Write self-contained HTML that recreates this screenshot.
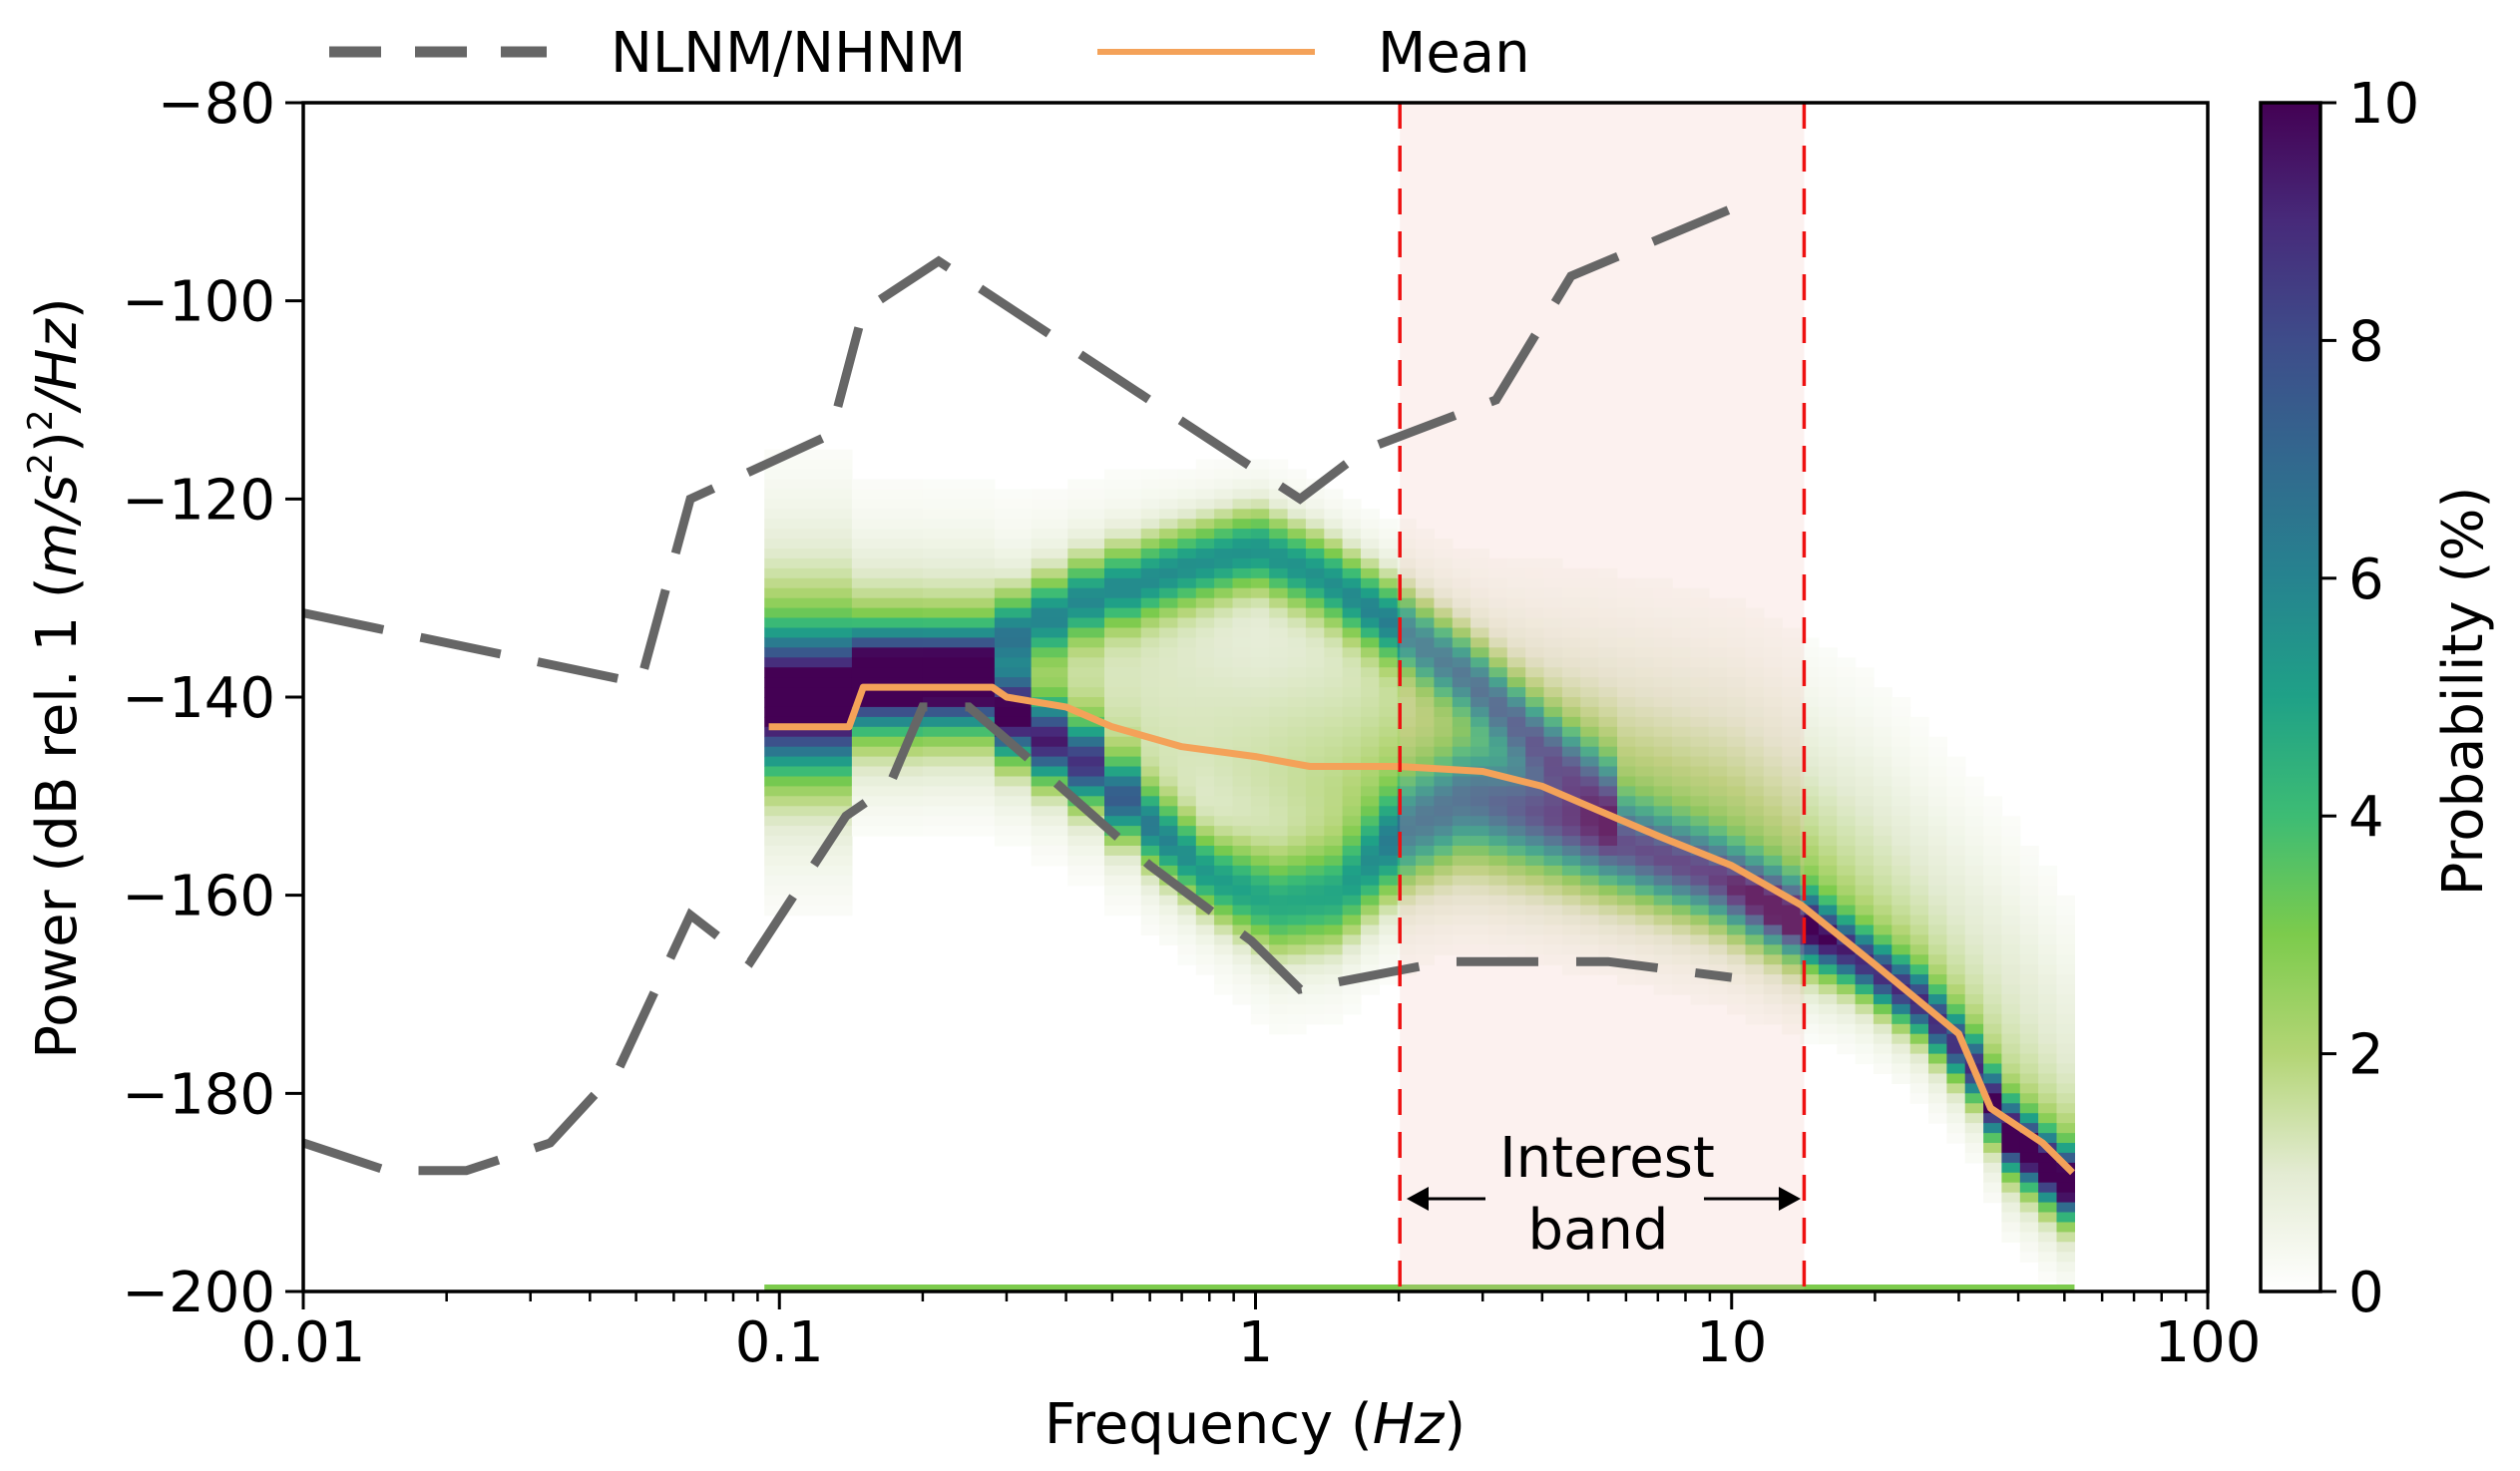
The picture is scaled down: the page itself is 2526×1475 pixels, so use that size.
<!DOCTYPE html>
<html><head><meta charset="utf-8"><style>
html,body{margin:0;padding:0;background:#fff;}
svg{display:block;font-family:"DejaVu Sans","Liberation Sans",sans-serif;}
</style></head><body>
<svg id="chart" width="2526" height="1475" viewBox="0 0 2526 1475" xmlns="http://www.w3.org/2000/svg">
<defs>
<linearGradient id="cbgrad" x1="0" y1="1" x2="0" y2="0">
<stop offset="0" stop-color="#ffffff"/><stop offset="0.1" stop-color="#e3ebd2"/><stop offset="0.2" stop-color="#b3d575"/><stop offset="0.3" stop-color="#7ccb4c"/><stop offset="0.4" stop-color="#3dbc74"/><stop offset="0.5" stop-color="#1fa187"/><stop offset="0.6" stop-color="#26838f"/><stop offset="0.7" stop-color="#32688e"/><stop offset="0.8" stop-color="#3e4c8a"/><stop offset="0.9" stop-color="#472a7a"/><stop offset="1" stop-color="#440154"/>
</linearGradient>
<clipPath id="plotclip"><rect x="304" y="103" width="1909" height="1192"/></clipPath>
</defs>
<g id="heat"></g>
<rect id="band" fill="#f2b8b0" fill-opacity="0.2"/>
<g id="lines" clip-path="url(#plotclip)"></g>
<g id="axes"></g>
</svg>
<script>
// ---- data ----
const mainFreq  = [0.1,0.17,0.25,0.33,0.45,0.6,0.8,1.1,1.5,2,2.8,4,6,9,13,18,25,32,38,50];
const mainDb    = [-141,-138,-138,-143,-147,-153,-158,-161,-160,-154,-150,-152,-155,-158,-162,-166,-171,-177,-184,-189];
const mainPeak  = [10,12,12,9,8,6,5,4.5,4.5,5,5,6,6.5,7,10,8,8,8,11,11];
const mainWidth = [5,3,3,2.5,2.5,2.5,2.5,3.2,3.2,3.2,3.2,3,2.8,2.6,2.3,2,2,2,2.2,2.2];
const upperFreq = [0.3,0.45,0.7,1.0,1.4,2,2.8,4,5.5];
const upperDb   = [-134,-130,-127,-125,-128,-133,-138,-145,-150];
const upperPeak = [5,5,5,5,5,5.5,5.5,5.5,4];
const cloudFreq = [0.1,0.3,0.6,1,2,5,10,20,40,52];
const cloudDb   = [-138,-138,-142,-146,-150,-152,-155,-161,-175,-182];
const cloudPeak = [0.8,0.6,1.1,1.3,1.8,2.1,2.0,1.4,1.1,1.0];
const nlnmF = [0.01,0.015,0.022,0.033,0.046,0.065,0.087,0.138,0.17,0.2,0.25,0.33,0.6,0.98,1.24,2.5,5.5,10];
const nlnmDb = [-185,-187.8,-187.8,-185,-177.5,-162,-166.7,-152,-149,-141,-141,-146,-157,-164.6,-169.5,-166.7,-166.7,-168.3];
const nhnmF = [0.01,0.051,0.065,0.128,0.15,0.216,1.24,1.7,3.2,4.6,10];
const nhnmDb = [-131.5,-138.6,-120,-113.5,-101,-96,-120,-115,-110,-97.5,-90.7];
const meanF = [0.095,0.14,0.15,0.28,0.3,0.4,0.5,0.7,1,1.3,2,3,4,5,7,10,14,20,30,35,45,52];
const meanDb = [-143,-143,-139,-139,-140,-141,-143,-145,-146,-147,-147,-147.5,-149,-151,-154,-157,-161,-167,-174,-181.5,-185,-188];
const xTicks = [0.01,0.1,1,10,100];
const xTickLabels = ["0.01","0.1","1","10","100"];
const yTicks = [-80,-100,-120,-140,-160,-180,-200];
const cbTicks = [0,2,4,6,8,10];
const bandLo = 2.01, bandHi = 14.2;

const L=304,R=2213,T=103,B=1295;
const X=f=>L+(Math.log10(f)+2)*(R-L)/4;
const Y=d=>T+(-80-d)*(B-T)/120;
const NS="http://www.w3.org/2000/svg";
function mk(tag,attrs,parent){const e=document.createElementNS(NS,tag);for(const k in attrs)e.setAttribute(k,attrs[k]);parent.appendChild(e);return e;}
function interp(fs,vs,f){const lf=Math.log10(f);if(f<=fs[0])return vs[0];if(f>=fs[fs.length-1])return vs[vs.length-1];
 for(let i=0;i<fs.length-1;i++){const a=Math.log10(fs[i]),b=Math.log10(fs[i+1]);if(lf>=a&&lf<=b){const t=(lf-a)/(b-a);return vs[i]+t*(vs[i+1]-vs[i]);}}return vs[0];}
const stops=[[0,[255,255,255]],[1,[227,235,210]],[2,[179,213,117]],[3,[124,203,76]],[4,[61,188,116]],[5,[31,161,135]],[6,[38,131,143]],[7,[50,104,142]],[8,[62,76,138]],[9,[71,42,122]],[10,[68,1,84]]];
function col(v){v=Math.max(0,Math.min(10,v));const i=Math.min(9,Math.floor(v));const t=v-i;const a=stops[i][1],b=stops[i+1][1];
 return `rgb(${Math.round(a[0]+t*(b[0]-a[0]))},${Math.round(a[1]+t*(b[1]-a[1]))},${Math.round(a[2]+t*(b[2]-a[2]))})`;}

const band=document.getElementById('band');
band.setAttribute('x',X(bandLo));band.setAttribute('y',T);band.setAttribute('width',X(bandHi)-X(bandLo));band.setAttribute('height',B-T);

const edges=[0.093,0.142,0.2,0.283];
let lx=Math.log10(0.283);
while(lx<Math.log10(0.55)){lx+=1/13;edges.push(Math.pow(10,lx));}
while(lx<Math.log10(52)){lx+=1/26;edges.push(Math.pow(10,Math.min(lx,Math.log10(52.5))));}
const heat=document.getElementById('heat');
const g=(x,s)=>Math.exp(-0.5*x*x/(s*s));
for(let c=0;c<edges.length-1;c++){
 const f=Math.sqrt(edges[c]*edges[c+1]);
 const mc=interp(mainFreq,mainDb,f),mp=interp(mainFreq,mainPeak,f),mw=interp(mainFreq,mainWidth,f);
 const hasU=f>=0.28&&f<=6;const uc=interp(upperFreq,upperDb,f),up=interp(upperFreq,upperPeak,f);
 const cc=interp(cloudFreq,cloudDb,f),cp=interp(cloudFreq,cloudPeak,f);
 const x0=X(edges[c]),x1=X(edges[c+1]);
 for(let d=-100;d>-200;d-=1){
  const dc=d-0.5;
  let v=0.85*mp*g(dc-mc,mw)+0.18*mp*g(dc-mc,mw*2.2);
  if(hasU)v+=0.9*up*g(dc-uc,2.5)+0.15*up*g(dc-uc,5);
  v+=cp*(dc>cc?g(dc-cc,11):g(dc-cc,6));
  if(v<0.15)continue;
  const r=mk('rect',{x:x0.toFixed(1),y:Y(d).toFixed(1),width:(x1-x0+0.6).toFixed(1),height:(Y(d-1)-Y(d)+0.6).toFixed(1),fill:col(v)},heat);
  
  
 }
}
const strip=mk('rect',{x:X(0.093),y:B-7,width:X(52.5)-X(0.093),height:7,fill:'#7ccb4c'},heat);



const lines=document.getElementById('lines');
const pts=(fs,ds)=>fs.map((f,i)=>X(f).toFixed(1)+','+Y(ds[i]).toFixed(1)).join(' ');
const nl=mk('polyline',{points:pts(nlnmF,nlnmDb),fill:'none',stroke:'#666','stroke-width':9,'stroke-dasharray':'82,38'},lines);


const nh=mk('polyline',{points:pts(nhnmF,nhnmDb),fill:'none',stroke:'#666','stroke-width':9,'stroke-dasharray':'82,38'},lines);


const ml=mk('polyline',{points:pts(meanF,meanDb),fill:'none',stroke:'#f4a259','stroke-width':7,'stroke-linejoin':'round'},lines);


[bandLo,bandHi].forEach((f,i)=>{const l=mk('line',{x1:X(f),x2:X(f),y1:T,y2:B,stroke:'#ee1111','stroke-width':3.5,'stroke-dasharray':'26,17'},lines);
 
 });

const ax=document.getElementById('axes');
const frame=mk('rect',{x:L,y:T,width:R-L,height:B-T,fill:'none',stroke:'#000','stroke-width':3.5},ax);


xTicks.forEach((t,i)=>{mk('line',{x1:X(t),x2:X(t),y1:B,y2:B+18,stroke:'#000','stroke-width':3},ax);
 const tx=mk('text',{x:X(t),y:B+70,'font-size':56,'text-anchor':'middle'},ax);tx.textContent=xTickLabels[i];
 
 
 if(i<4)for(let m=2;m<10;m++){const mx=X(t*m);mk('line',{x1:mx,x2:mx,y1:B,y2:B+10,stroke:'#000','stroke-width':2.5},ax);}});
yTicks.forEach(t=>{mk('line',{x1:L-18,x2:L,y1:Y(t),y2:Y(t),stroke:'#000','stroke-width':3},ax);
 const tx=mk('text',{x:L-28,y:Y(t)+20,'font-size':56,'text-anchor':'end'},ax);tx.textContent='\u2212'+Math.abs(t);
 
 });
const CL=2266,CR=2326;
const cbr=mk('rect',{x:CL,y:T,width:CR-CL,height:B-T,fill:'url(#cbgrad)',stroke:'#000','stroke-width':3.5},ax);


cbTicks.forEach(t=>{const y=B-(B-T)*t/10;mk('line',{x1:CR,x2:CR+16,y1:y,y2:y,stroke:'#000','stroke-width':3},ax);
 const tx=mk('text',{x:CR+28,y:y+20,'font-size':56},ax);tx.textContent=t;
 
 });
</script>
<script>
(function(){
const NS="http://www.w3.org/2000/svg";const s=document.getElementById('chart');
const g=document.createElementNS(NS,'g');s.appendChild(g);
g.innerHTML=`
<text x="1258" y="1447" font-size="56" text-anchor="middle">Frequency (<tspan font-style="italic">Hz</tspan>)</text>
<text transform="translate(76,680) rotate(-90)" font-size="56" text-anchor="middle">Power (dB rel. 1 (<tspan font-style="italic">m/s</tspan><tspan font-size="34" dy="-24">2</tspan><tspan dy="24">)</tspan><tspan font-size="34" dy="-24">2</tspan><tspan dy="24" font-style="italic">/Hz</tspan>)</text>
<text transform="translate(2488,693) rotate(-90)" font-size="56" text-anchor="middle">Probability (%)</text>
<g>
<line x1="330" y1="52" x2="548" y2="52" stroke="#666" stroke-width="11" stroke-dasharray="52,34"/>
<text x="612" y="72" font-size="56">NLNM/NHNM</text>
<line x1="1100" y1="52" x2="1318" y2="52" stroke="#f4a259" stroke-width="6"/>
<text x="1381" y="72" font-size="56">Mean</text>
</g>
<g>
<text x="1611" y="1180" font-size="56" text-anchor="middle">Interest</text>
<text x="1602" y="1252" font-size="56" text-anchor="middle">band</text>
<line x1="1420" y1="1202" x2="1489" y2="1202" stroke="#000" stroke-width="3"/>
<polygon points="1410,1202 1432,1190 1432,1214" fill="#000"/>
<line x1="1708" y1="1202" x2="1793" y2="1202" stroke="#000" stroke-width="3"/>
<polygon points="1805,1202 1783,1190 1783,1214" fill="#000"/>
</g>`;
})();
</script>
</body></html>
